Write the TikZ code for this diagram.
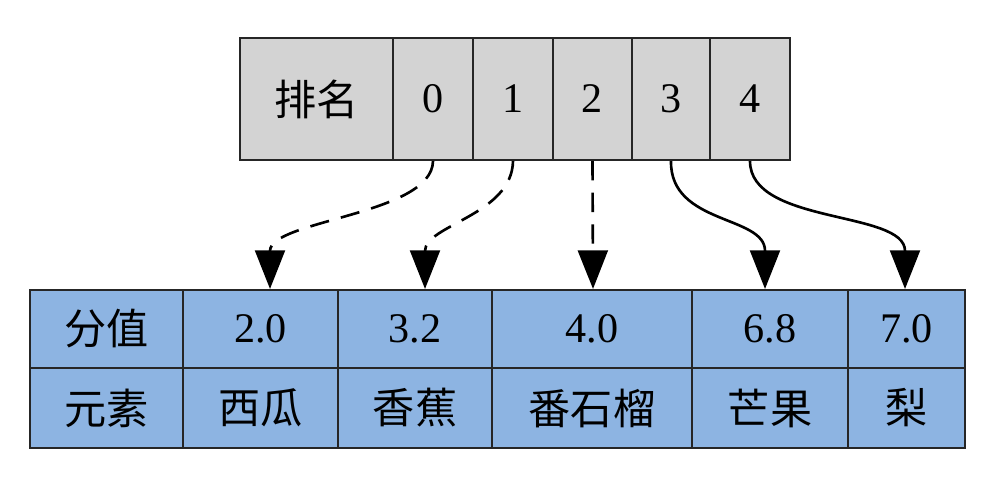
\documentclass[tikz,border=0pt]{standalone}
\usepackage{fontspec}
\setmainfont{Liberation Serif}
\newfontfamily\cjk{Noto Sans CJK SC}
\usetikzlibrary{arrows.meta}
\definecolor{gr}{HTML}{D3D3D3}
\definecolor{bl}{HTML}{8DB4E2}
\begin{document}
\begin{tikzpicture}[x=0.02cm,y=-0.02cm,
 cell/.style={draw=black!85,line width=1.2pt,inner sep=0},
 txt/.style={font=\fontsize{24}{28}\selectfont},
 arr/.style={line width=1.5pt,-{Triangle[length=22pt,width=17pt]}},
 dsh/.style={dash pattern=on 11pt off 7pt}]
\useasboundingbox (0,0) rectangle (1006,485);
\newcommand\cellbox[6]{\node[cell,fill=#6,minimum width={(#3-#2)*0.02cm},minimum height={(#5-#4)*0.02cm}] (#1) at ({(#2+#3)/2},{(#4+#5)/2}) {};}
% top
\foreach \n/\a/\b/\t in {h/240/393/{\cjk 排名},t0/393/473/0,t1/473/553/1,t2/553/632/2,t3/632/710/3,t4/710/790/4}{
 \cellbox{\n}{\a}{\b}{38}{160}{gr}
 \node[txt] at (\n) {\t};
}
% bottom
\foreach \n/\a/\b/\s/\e in {c0/30/183/{\cjk 分值}/{\cjk 元素},c1/183/338/2.0/{\cjk 西瓜},c2/338/492/3.2/{\cjk 香蕉},c3/492/692/4.0/{\cjk 番石榴},c4/692/848/6.8/{\cjk 芒果},c5/848/965/7.0/{\cjk 梨}}{
 \cellbox{\n s}{\a}{\b}{290}{368}{bl}
 \cellbox{\n e}{\a}{\b}{368}{448}{bl}
 \node[txt] at (\n s) {\s};
 \node[txt] at (\n e) {\e};
}
\draw[arr,dsh] (t0.south) .. controls (432,215) and (270,220) .. (c1s.north -| 270,0);
\draw[arr,dsh] (t1.south) .. controls (512,215) and (425,225) .. (c2s.north -| 425,0);
\draw[arr,dsh] (t2.south) -- (c3s.north -| 593,0);
\draw[arr] (t3.south) .. controls (670,225) and (765,215) .. (c4s.north -| 765,0);
\draw[arr] (t4.south) .. controls (750,225) and (905,210) .. (c5s.north -| 905,0);
\end{tikzpicture}
\end{document}
